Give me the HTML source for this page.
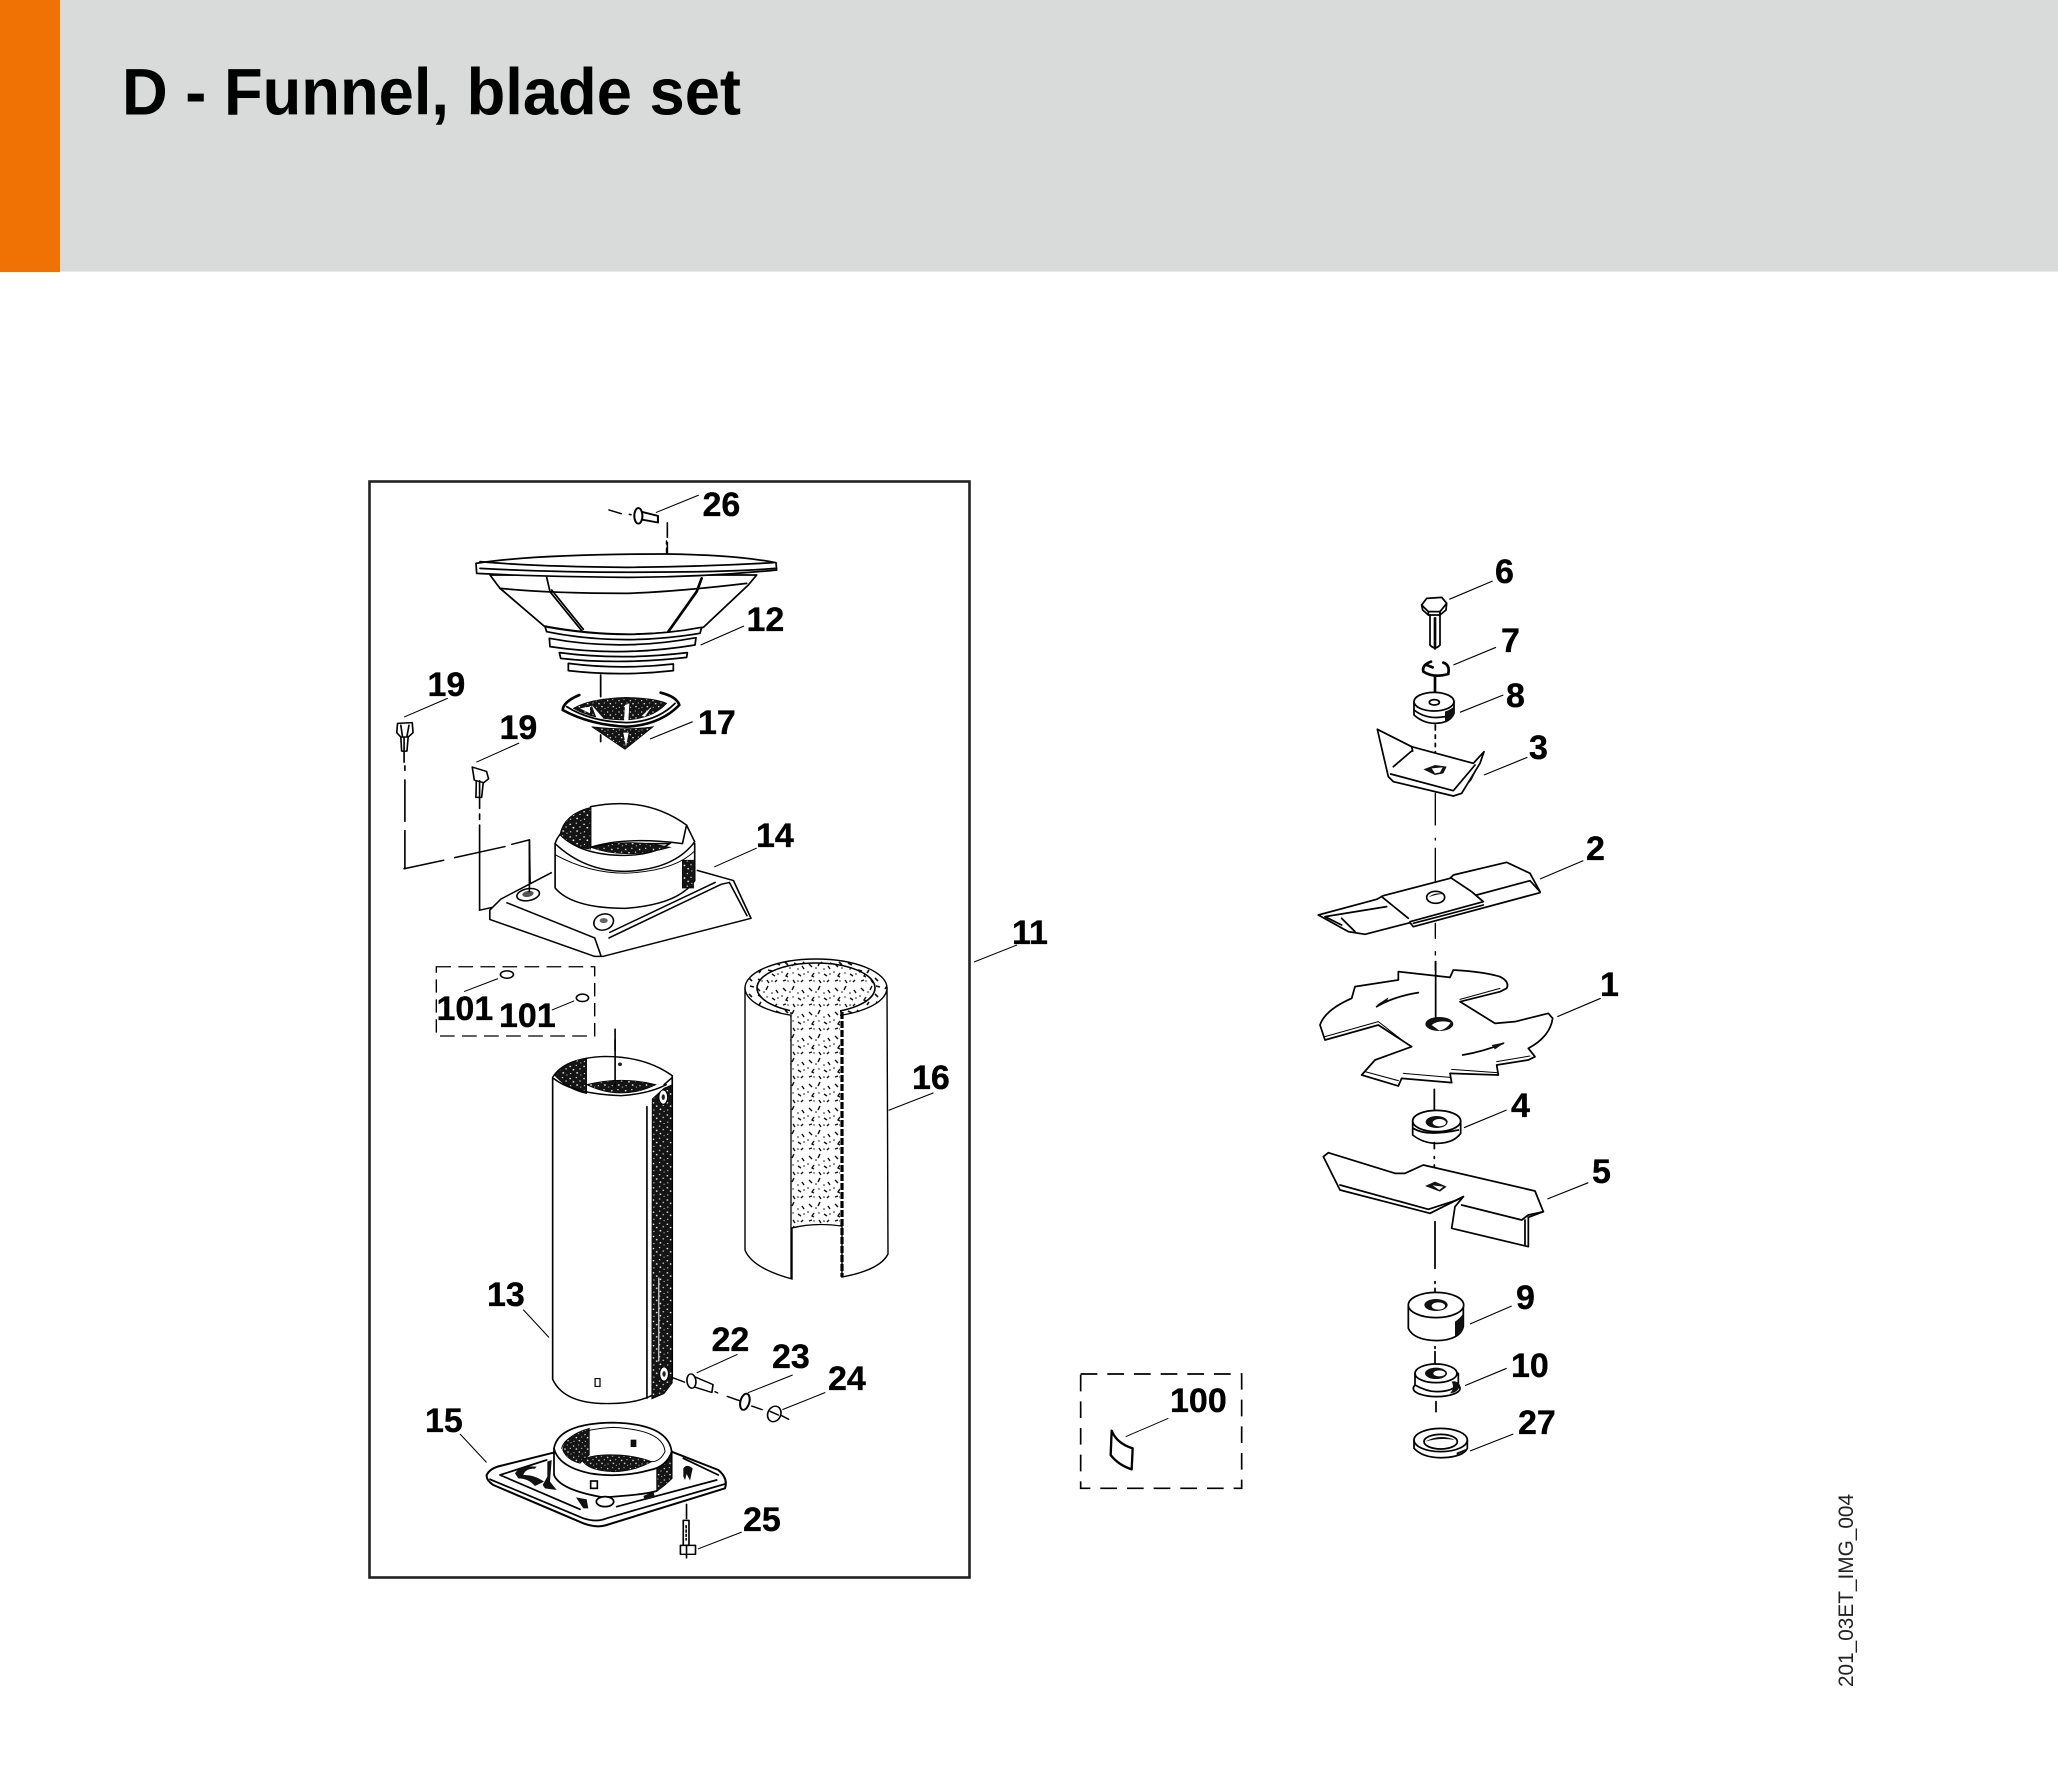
<!DOCTYPE html>
<html><head><meta charset="utf-8"><style>
html,body{margin:0;padding:0;background:#fff;width:2058px;height:1788px;overflow:hidden}
svg{display:block}
.l{font:bold 34px "Liberation Sans",sans-serif;fill:#000;stroke:#000;stroke-width:.35}
.s{fill:none;stroke:#000;stroke-width:4;stroke-linejoin:round;stroke-linecap:round}
.w{fill:#fff;stroke:#000;stroke-width:4;stroke-linejoin:round}
.b{fill:none;stroke:#000;stroke-width:6.5;stroke-linejoin:round;stroke-linecap:round}
.t{fill:none;stroke:#000;stroke-width:2.8}
.k{fill:#111;stroke:#000;stroke-width:2}
.dk{fill:url(#dk);stroke:#000;stroke-width:2}
.h .s,.h .w{stroke-width:5.2}
.h .b{stroke-width:8}
.h .t{stroke-width:3.4}
</style></head><body>
<svg width="2058" height="1788" viewBox="0 0 2058 1788" xmlns="http://www.w3.org/2000/svg">
<defs>
<pattern id="dk" width="34" height="34" patternUnits="userSpaceOnUse"><rect width="34" height="34" fill="#141414"/><g fill="#fff"><circle cx="5" cy="6" r="2"/><circle cx="20" cy="3" r="1.6"/><circle cx="13" cy="15" r="2.2"/><circle cx="29" cy="13" r="1.7"/><circle cx="6" cy="26" r="1.6"/><circle cx="22" cy="24" r="2.1"/><circle cx="31" cy="30" r="1.4"/></g></pattern>
<pattern id="lt" width="26" height="24" patternUnits="userSpaceOnUse"><rect width="26" height="24" fill="#fff"/><g stroke="#111" stroke-width="1.4" fill="none"><path d="M3 4l3 3"/><path d="M14 2l-2 4"/><path d="M22 6l2 3"/><path d="M8 13l-2 3 2 1"/><path d="M18 14l3 2"/><path d="M3 21l3-1"/><path d="M13 20l2 3"/><path d="M23 20l-2 2"/></g><g fill="#111"><circle cx="10" cy="8" r=".8"/><circle cx="18" cy="9" r=".8"/><circle cx="2" cy="12" r=".8"/><circle cx="13" cy="13" r=".7"/><circle cx="24" cy="14" r=".8"/><circle cx="8" cy="21" r=".7"/><circle cx="18" cy="21" r=".8"/></g></pattern>
<pattern id="rg" width="18" height="16" patternUnits="userSpaceOnUse"><rect width="18" height="16" fill="#fff"/><g stroke="#111" stroke-width="1.6" fill="none"><path d="M2 3l4 2"/><path d="M11 2l3 3"/><path d="M5 10l-2 3"/><path d="M12 10l4 1"/></g></pattern>
</defs>

<rect x="0" y="0" width="2058" height="271" fill="#d9dbda"/>
<rect x="0" y="271" width="2058" height="1" fill="#e9eaea"/>
<rect x="0" y="0" width="60" height="272" fill="#f07204"/>
<text x="122" y="114.5" font-family="Liberation Sans, sans-serif" font-weight="bold" font-size="66" textLength="619" lengthAdjust="spacingAndGlyphs">D - Funnel, blade set</text>

<rect x="369.5" y="481.5" width="600" height="1096" fill="none" stroke="#222" stroke-width="2.6"/>

<!-- Part 16 cylinder -->
<g>
<path d="M745 988 V1250 Q752 1268 792 1279 V1228 Q815 1222 842 1226 V1277 Q880 1270 888 1254 L887 988 Z" fill="#fff" stroke="#000" stroke-width="1.4"/>
<ellipse cx="816" cy="988" rx="71" ry="29" fill="url(#rg)" stroke="#000" stroke-width="1.4"/>
<ellipse cx="816" cy="988" rx="59" ry="25" fill="url(#lt)" stroke="#000" stroke-width="1.6"/>
<path d="M790 1006 Q815 1008 840 1006 V1226 Q815 1222 791 1228 Z" fill="url(#lt)" stroke="none"/>
<path d="M791 1012 V1278" stroke="#000" stroke-width="1.3" fill="none"/>
<path d="M842 1012 V1277" stroke="#000" stroke-width="3.2" stroke-dasharray="7 2" fill="none"/>
<path d="M791 1228 Q815 1222 842 1226" stroke="#000" stroke-width="1" fill="none"/>
</g>

<!-- Group from crop 1 -->
<g transform="translate(360 470) scale(.40816 .3699)">
<path class="s" d="M610 108 L640 118 M660 120 L664 121 M753 143 V182 M753 196 V225"/>
<path class="t" d="M725 115 L830 68"/>
<path class="w" d="M690 113 L730 124 L730 142 L690 134 Z" style="stroke-width:5"/>
<ellipse class="w" cx="682" cy="124" rx="10" ry="21" style="stroke-width:5"/>

<!-- 19 -->
<g><path class="t" d="M108 668 L215 617 M285 790 L390 738"/>
<path class="w" d="M92 685 L128 683 L130 710 L118 722 L100 722 L90 710Z"/>
<path class="s" d="M100 690 L104 720 M120 690 L115 720"/>
<path class="w" d="M100 722 L102 760 L115 760 L118 722Z"/>
<path class="s" d="M108 722 V790 M110 800 V812 M110 838 V950 M110 975 V1078 M415 1000 L417 1135"/>
<path class="w" d="M275 803 L310 815 L315 835 L300 848 L280 838 Z"/>
<path class="w" d="M285 840 L284 885 L298 885 L302 845Z"/>
<path class="s" d="M293 840 V915 M293 930 V945 M293 960 V1190 M600 1112 V1215"/>
<path class="b" style="stroke-width:4" d="M108 1078 L205 1055 M232 1048 L355 1018 M372 1012 L415 1000 M293 1190 L355 1175 M448 1150 L520 1130 M545 1125 L600 1112"/></g>

<!-- 14 -->
<path class="w" d="M470 1088 L345 1160 L318 1190 L318 1215 L575 1315 L595 1315 L958 1212 L915 1110 L825 1082"/>
<path class="s" d="M360 1170 L575 1265 L590 1312 M612 1250 L870 1115 M610 1265 L885 1120 L905 1115 M905 1115 L948 1205"/>
<path class="t" d="M868 1073 L972 1022"/>
<path class="w" d="M478 1010 V1130 Q520 1185 650 1185 Q780 1175 820 1110 V1010 Z"/>
<rect x="790" y="1055" width="27" height="75" fill="url(#dk)" stroke="#000" stroke-width="2"/>
<path class="s" d="M478 1040 Q560 1090 650 1090 Q770 1085 820 1030" style="stroke-width:2.5"/>
<path class="w" d="M490 985 Q480 1000 478 1010 Q550 1085 650 1085 Q770 1080 820 1005 L800 960 Q760 1040 650 1042 Q540 1042 490 985Z"/>
<path class="w" d="M565 910 Q700 880 800 960 L790 1010 Q650 990 565 1020 Z"/>
<path class="dk" d="M490 985 Q500 930 565 912 V1025 Q520 1020 490 985Z"/>
<path class="dk" d="M565 1020 Q660 995 760 1020 Q650 1055 565 1020Z"/>
<g transform="rotate(-12 412 1148)"><ellipse class="w" cx="412" cy="1148" rx="28" ry="16"/><ellipse cx="412" cy="1146" rx="14" ry="8" fill="#555"/></g>
<path class="s" d="M415 1000 V1140"/>
<ellipse class="w" cx="597" cy="1222" rx="25" ry="21" transform="rotate(-30 597 1222)"/>
<ellipse cx="597" cy="1218" rx="10" ry="7" fill="#666"/>

<!-- box 101 -->
<rect x="187" y="1343" width="388" height="187" fill="none" stroke="#000" stroke-width="3.4" stroke-dasharray="36 18"/>
<ellipse class="w" cx="360" cy="1364" rx="16" ry="10"/><ellipse class="w" cx="545" cy="1427" rx="15" ry="10"/>
<path class="t" d="M255 1410 L338 1375 M470 1460 L525 1435"/>
<path class="s" d="M625 1512 V1568"/>
</g>

<!-- Funnel and grate (crop) -->
<g class="h" transform="translate(470 540) scale(.33333)">
<path class="s" d="M590 25 V65"/>
<path class="w" d="M60 105 L90 145 L222 258 Q470 305 700 262 L835 135 L860 105 Z"/>
<path class="s" d="M90 145 Q240 160 470 160 Q620 155 830 130"/>
<path class="s" d="M230 112 L240 155 L335 272 M245 150 L340 268"/>
<path class="b" d="M695 115 L680 155 L595 275"/>
<path class="w" d="M18 70 Q200 42 590 42 Q800 45 918 68 L920 90 Q700 112 470 112 Q200 110 20 100Z"/>
<path class="s" d="M30 65 Q200 80 470 82 Q700 80 910 68 M30 85 Q300 100 600 96 Q800 95 915 85"/>
<path class="w" d="M225 260 L230 275 Q450 320 690 280 L695 262 Q470 305 225 260Z"/>
<path class="w" d="M238 295 L240 320 Q450 352 675 315 L678 293 Q450 335 238 295Z"/>
<path class="w" d="M268 338 L272 355 Q450 375 650 352 L652 338 Q450 362 268 338Z"/>
<path class="w" d="M295 370 V392 Q450 410 610 392 V372 Q450 390 295 370Z"/>
<path class="s" d="M392 405 V470 M392 585 V605"/>
<path class="dk" d="M310 505 Q360 475 470 472 Q560 475 590 490 Q550 535 470 540 Q370 540 310 505Z"/>
<path d="M365 495 L400 535 L380 535Z M465 495 L478 490 L475 545 L462 545Z M545 500 L525 530 L515 528Z M330 505 L360 500 L360 520Z" fill="#fff"/>
<path class="b" d="M328 465 Q280 485 278 510 Q360 555 470 560 Q570 555 628 495 Q620 470 572 458"/>
<path class="s" d="M290 500 Q360 545 470 548 Q560 545 615 490"/>
<path class="dk" d="M365 560 Q470 572 550 560 L465 628 Z"/>
<path d="M460 578 H476 L468 620Z" fill="#fff"/>
<path class="t" d="M692 315 L822 258 M540 597 L668 545"/>
</g>
<path class="s" style="stroke-width:1.5" d="M666.5 541 V544"/>

<!-- Group from crop 2 -->
<g transform="translate(360 1040) scale(.40816 .35714)">
<path class="s" d="M625 0 V30"/>
<path class="w" d="M472 105 Q500 50 600 46 Q700 46 765 100 V950 Q720 1018 610 1018 Q500 1020 472 950Z"/>
<path class="dk" d="M478 100 Q500 58 555 52 V128 L555 150 Q510 140 478 100Z"/>
<path class="dk" d="M555 125 Q640 100 725 125 Q640 172 555 125Z"/>
<path class="s" d="M475 108 Q520 150 640 156 Q710 150 750 125 M625 30 V130"/>
<circle cx="637" cy="68" r="5" fill="#222"/>
<path class="dk" d="M716 165 L745 135 L765 125 V960 L745 990 L715 1005 Z"/>
<path class="s" d="M745 125 L765 105"/>
<path d="M703 185 V1005" stroke="#000" stroke-width="4"/>
<path d="M732 665 V900" stroke="#ddd" stroke-width="3"/>
<ellipse cx="743" cy="160" rx="11" ry="20" fill="#fff" stroke="#000" stroke-width="3"/><ellipse cx="743" cy="160" rx="4" ry="8" fill="#222"/>
<ellipse cx="745" cy="935" rx="11" ry="20" fill="#fff" stroke="#000" stroke-width="3"/><ellipse cx="745" cy="935" rx="4" ry="8" fill="#222"/>
<rect x="576" y="948" width="12" height="22" fill="#fff" stroke="#000" stroke-width="3"/>
<path class="t" d="M400 755 L463 833"/>

<!-- fasteners -->
<path class="s" d="M765 945 L795 958 M870 985 L876 988 M900 998 L935 1012 M960 1025 L985 1035 M1030 1050 L1050 1062"/>
<path class="w" d="M820 943 L865 965 L862 987 L815 970Z"/>
<ellipse class="w" cx="812" cy="955" rx="11" ry="20" transform="rotate(-5 812 955)"/>
<ellipse class="w" cx="943" cy="1013" rx="11" ry="23" transform="rotate(12 943 1013)" style="stroke-width:5"/>
<ellipse class="w" cx="1015" cy="1047" rx="16" ry="22" transform="rotate(15 1015 1047)"/>
<path class="s" d="M1005 1040 L1025 1050"/>
<path class="t" d="M825 932 L925 880 M950 988 L1060 938 M1035 1035 L1140 987"/>
<path class="t" d="M245 1103 L310 1183"/>
<path class="s" d="M800 1300 V1340"/>
<path class="w" d="M792 1345 H806 V1415 H792Z"/>
<path class="s" d="M799 1360 V1400" stroke-dasharray="6 6"/>
<path class="w" d="M785 1415 H822 V1440 H785Z"/>
<path class="s" d="M800 1415 V1450"/>
<path class="t" d="M828 1425 L935 1378"/>
<path class="t" d="M1295 197 L1405 148"/>
</g>

<!-- Base 15 (crop) -->
<g class="h" transform="translate(470 1410) scale(.33333)">
<path class="w" d="M50 195 Q60 175 90 168 L250 128 L605 125 L745 180 Q775 205 765 235 L410 345 Q380 355 340 340 L70 225 Q48 210 50 195Z" style="stroke-width:6"/>
<path class="s" d="M60 208 L340 325 Q380 338 410 325 L765 222 M90 195 L230 150 M640 145 L745 195 M90 195 L330 298 M440 290 L740 210"/>
<path d="M135 190 Q150 165 200 170 L195 176 Q165 176 160 195 Q195 195 222 215 L195 228 Q175 205 145 205Z M232 155 L245 150 L240 215 L260 240 L225 235 L218 225 L232 200Z M318 262 L350 268 L355 295 L340 295Z M520 258 L550 245 L555 262 L525 270Z M640 175 Q650 160 668 175 L660 212 L650 192 L645 210 L640 200Z" fill="#111"/>
<path class="w" d="M252 115 V195 Q270 240 400 262 Q520 255 560 243 L605 205 V125 Z"/>
<path class="dk" d="M560 170 Q590 155 605 130 V205 Q590 225 560 243Z"/>
<path class="w" d="M252 115 Q265 40 430 38 Q595 42 605 125 Q590 170 540 180 Q450 205 360 190 Q265 170 252 115Z"/>
<path class="s" d="M275 115 Q290 60 430 52 Q580 60 585 125 Q570 155 545 155" style="stroke-width:3"/>
<path class="dk" d="M278 120 Q285 75 358 55 V135 Q340 150 330 160 Q290 150 278 120Z"/>
<path class="dk" d="M335 150 Q370 130 450 135 Q510 140 545 155 Q470 195 395 182 Q350 175 335 150Z"/>
<rect x="483" y="90" width="15" height="20" class="k"/>
<rect x="362" y="213" width="20" height="22" fill="#fff" stroke="#000" stroke-width="5"/>
<ellipse class="w" cx="405" cy="275" rx="26" ry="15"/>
</g>

<!-- Group from crop 3 -->
<g class="h" transform="translate(1280 550) scale(.33333)">
<path class="w" d="M450 190 V285 Q465 302 480 285 V190Z"/>
<path class="b" d="M465 205 V295"/>
<path class="w" d="M425 165 L440 145 L485 142 L500 160 L498 180 L480 195 L445 195 L428 180Z"/>
<path class="s" d="M425 165 L445 185 L480 185 L500 160 M445 185 V195 M480 185 V195"/>
<path class="t" d="M508 148 L638 93 M520 345 L648 292 M540 487 L670 435 M612 675 L742 622 M780 987 L910 932"/>
<path class="b" d="M453 335 Q425 345 430 365 Q460 385 505 372 M490 338 Q510 345 505 370 M465 378 V430 M440 345 L458 352"/>
<path class="w" d="M402 455 V495 Q430 520 465 520 Q510 520 522 490 V455Z"/>
<ellipse class="w" cx="462" cy="455" rx="60" ry="28"/>
<path d="M495 485 Q510 480 522 470 V495 Q515 508 495 515Z" fill="#111"/>
<ellipse class="w" cx="463" cy="457" rx="15" ry="8"/>
<path class="s" d="M402 480 Q440 510 495 500"/>
<path class="s" d="M466 525 V540 M466 555 V565 M466 580 V590 M466 605 V650"/>
<path class="w" d="M292 538 L395 590 L580 640 L612 605 L600 640 L545 730 L520 738 L340 695 L325 680 Z"/>
<path class="s" d="M395 603 L340 650 M332 672 L520 722 L585 645 M395 590 L398 603"/>
<path d="M545 725 L600 640 L575 690Z" fill="#111"/>
<path d="M430 658 L465 645 L500 650 L490 670 L465 675Z" fill="#111"/>
<path d="M455 655 L488 652 L480 667 L465 670Z" fill="#fff"/>
<path class="b" style="stroke-width:4" d="M466 730 V825 M466 865 V870 M466 895 V1000"/>
<path class="w" d="M115 1095 L290 1048 L310 1037 L510 985 L520 975 L680 937 L750 970 L780 1025 L780 1028 L400 1130 L390 1118 L255 1153 L205 1145 Z"/>
<path class="s" d="M135 1100 L320 1070 M515 985 L575 1025 L610 1055 M590 1035 L750 992 L780 1025 M305 1040 L385 1105 M390 1115 L610 1055 M185 1105 L225 1145 M135 1100 L185 1125"/>
<path class="s" d="M400 1120 L610 1065" style="stroke-width:5"/>
<ellipse class="w" cx="467" cy="1042" rx="27" ry="18" style="stroke-width:5"/>
<path d="M445 1042 Q465 1025 490 1032 Q470 1032 445 1042Z" fill="#111"/>
<path class="b" style="stroke-width:4" d="M466 1120 V1165 M466 1205 V1215 M466 1235 V1260"/>
</g>

<!-- Group from crop 4 -->
<g class="h" transform="translate(1280 960) scale(.33333)">
<path class="w" d="M120 195 Q135 150 215 115 L225 80 Q290 70 355 60 V35 L510 52 L520 30 Q610 35 660 50 Q690 65 680 85 L660 95 L540 125 L645 190 L705 185 L805 160 L818 175 Q810 230 745 265 L765 290 L745 300 L650 315 L655 345 L510 340 L515 368 L365 355 L355 378 L245 345 L285 300 L395 260 L295 195 L135 240 Z"/>
<path class="s" d="M135 230 L295 185 L385 255 M660 85 L540 118 M255 335 L355 362 M370 340 L510 352 M515 328 L650 338 M650 305 L750 288" style="stroke-width:3"/>
<path class="s" d="M290 140 Q340 110 415 98 M548 285 Q610 275 670 250"/>
<path d="M290 135 L325 112 L320 128Z M675 247 L635 255 L645 268Z" fill="#111"/>
<path class="s" d="M467 5 V175"/>
<ellipse cx="478" cy="192" rx="42" ry="21" fill="#111"/>
<path d="M455 195 Q478 178 512 188 Q500 208 478 212Z" fill="#fff"/>
<path class="s" d="M463 388 V450"/>
<path class="w" d="M398 483 V525 Q430 550 470 550 Q520 550 542 520 V483Z"/>
<ellipse class="w" cx="470" cy="483" rx="72" ry="32"/>
<ellipse cx="470" cy="486" rx="33" ry="18" fill="#111"/><ellipse cx="478" cy="488" rx="20" ry="11" fill="#fff"/>
<path class="s" d="M400 505 Q440 530 535 510"/>
<path class="t" d="M552 503 L680 450 M802 717 L925 668 M570 1092 L695 1038 M555 1277 L680 1225 M570 1473 L700 1422 M832 170 L962 115"/>
<path class="s" d="M463 548 V566 M463 590 V595 M463 615 V660"/>
<path class="w" d="M130 590 L145 578 L345 640 L375 640 L430 615 L765 693 L790 755 L745 772 L745 860 L515 805 L525 740 L550 710 L450 760 L180 690 Z"/>
<path class="s" d="M180 675 L445 748 L525 722 L550 710 M545 735 L725 780 L745 765 L790 755 M735 780 V855"/>
<path d="M435 678 L465 665 L500 680 L480 695Z" fill="#111"/>
<path d="M458 676 L490 680 L478 690Z" fill="#fff"/>
<path class="s" d="M465 785 V925 M465 965 V970 M465 985 V1025"/>
<path class="w" d="M385 1035 V1105 Q400 1140 470 1142 Q540 1140 550 1100 V1035Z"/>
<ellipse class="w" cx="468" cy="1035" rx="83" ry="38"/>
<path d="M525 1085 Q540 1075 550 1060 V1105 Q540 1122 525 1128Z" fill="#111"/>
<ellipse cx="468" cy="1035" rx="35" ry="18" fill="#111"/><ellipse cx="475" cy="1038" rx="20" ry="11" fill="#fff"/>
<path class="s" d="M465 1160 V1165 M465 1175 V1230"/>
<ellipse class="w" cx="470" cy="1285" rx="70" ry="25"/>
<path class="w" d="M405 1240 V1275 Q440 1295 470 1295 Q520 1295 535 1270 V1240Z"/>
<ellipse class="w" cx="468" cy="1240" rx="63" ry="28"/>
<ellipse cx="468" cy="1240" rx="33" ry="17" fill="#111"/><ellipse cx="478" cy="1240" rx="18" ry="9" fill="#fff"/>
<path d="M515 1265 Q530 1260 540 1275 Q535 1298 510 1300 Q525 1285 515 1265Z" fill="#111"/>
<path class="s" d="M468 1325 V1355"/>
<path class="w" d="M402 1440 V1465 Q430 1495 490 1493 Q550 1490 562 1465 V1440Z"/>
<ellipse class="w" cx="482" cy="1440" rx="80" ry="35"/>
<ellipse class="w" cx="482" cy="1445" rx="50" ry="22"/>
<path d="M435 1445 Q480 1420 525 1440 Q480 1432 435 1445Z" fill="#111"/>
<path d="M530 1485 L562 1470 V1465 L530 1478Z" fill="#111"/>
</g>

<!-- 100 box -->
<g transform="translate(1060 1360) scale(.33333)">
<rect x="62" y="42" width="483" height="343" fill="none" stroke="#000" stroke-width="5" stroke-dasharray="50 30"/>
<path class="w" d="M155 212 Q170 250 218 265 L215 328 Q175 315 152 285 Z" style="stroke-width:7"/>
<path class="t" d="M197 230 L325 175"/>
</g>
<path d="M974 962 L1017 945" stroke="#000" stroke-width="1" fill="none"/>

<!-- Labels -->
<text class="l" x="702.5" y="516">26</text>
<text class="l" x="746.5" y="631">12</text>
<text class="l" x="427.5" y="696">19</text>
<text class="l" x="499.5" y="739">19</text>
<text class="l" x="698" y="734">17</text>
<text class="l" x="756" y="847">14</text>
<text class="l" x="436.5" y="1020">101</text>
<text class="l" x="499" y="1027">101</text>
<text class="l" x="487" y="1306">13</text>
<text class="l" x="912" y="1089">16</text>
<text class="l" x="711.5" y="1351">22</text>
<text class="l" x="772" y="1368">23</text>
<text class="l" x="828" y="1390">24</text>
<text class="l" x="425" y="1432">15</text>
<text class="l" x="743" y="1531">25</text>
<text class="l" x="1012" y="944">11</text>
<text class="l" x="1170" y="1412">100</text>
<text class="l" x="1495" y="583">6</text>
<text class="l" x="1501" y="652">7</text>
<text class="l" x="1506" y="707">8</text>
<text class="l" x="1529" y="759">3</text>
<text class="l" x="1586" y="860">2</text>
<text class="l" x="1600" y="996">1</text>
<text class="l" x="1511" y="1117">4</text>
<text class="l" x="1592" y="1183">5</text>
<text class="l" x="1516" y="1309">9</text>
<text class="l" x="1511" y="1377">10</text>
<text class="l" x="1518" y="1434">27</text>

<text transform="translate(1853 1687) rotate(-90)" font-family="Liberation Sans, sans-serif" font-size="21" fill="#222" textLength="193" lengthAdjust="spacingAndGlyphs">201_03ET_IMG_004</text>
</svg>
</body></html>
